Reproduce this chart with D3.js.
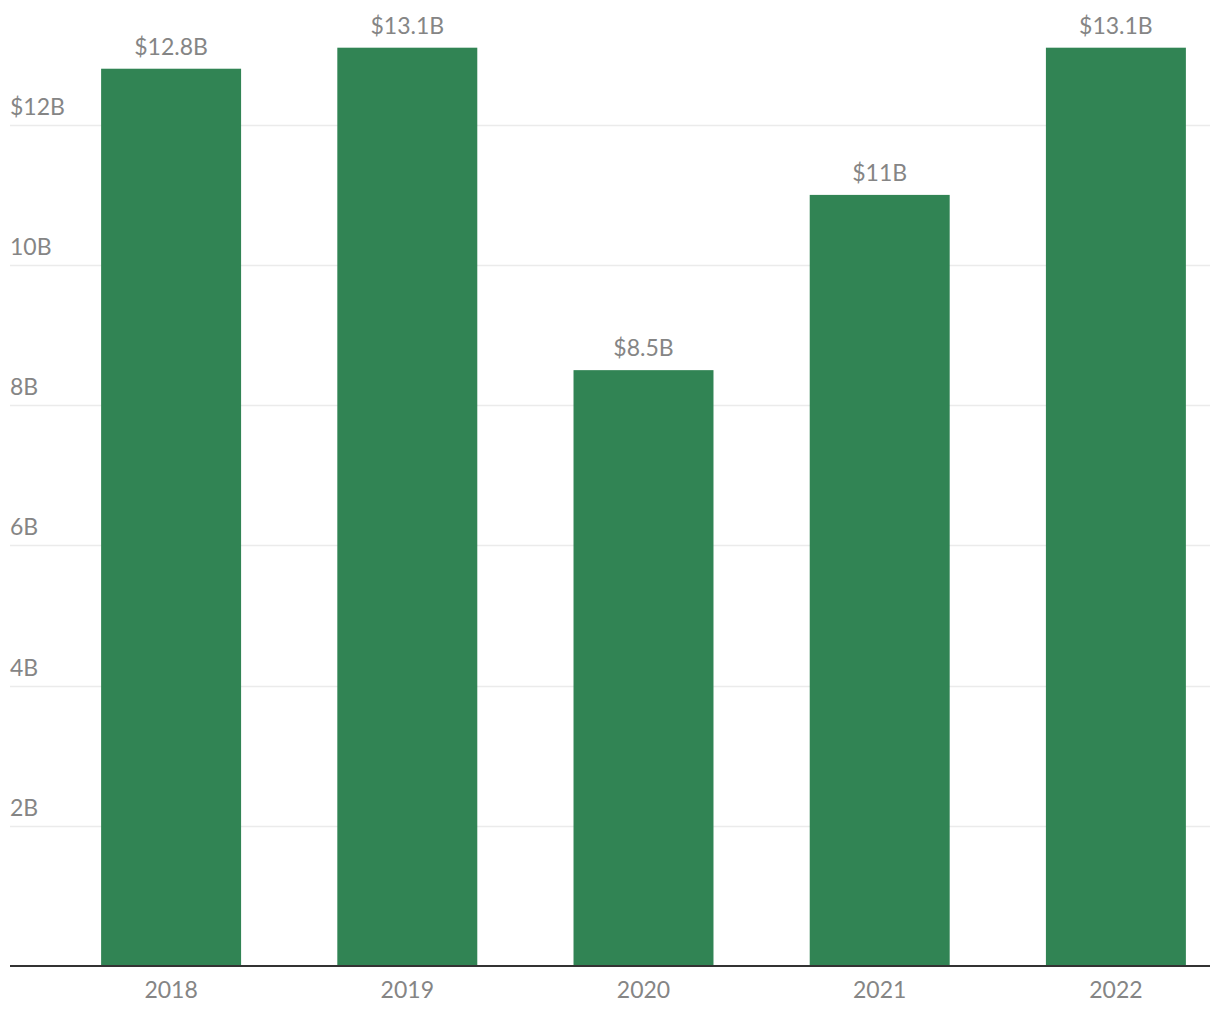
<!DOCTYPE html>
<html>
<head>
<meta charset="utf-8">
<script src="https://cdn.jsdelivr.net/npm/d3@7"></script>
<style>
  body { margin: 0; background: #fff; }
  svg text { font-family: Lato, "Open Sans", sans-serif; fill: #858585; }
</style>
</head>
<body>
<div id="chart"></div>
<script>
const years = ['2018', '2019', '2020', '2021', '2022'];
const revenue = [12.8, 13.1, 8.5, 11, 13.1];
const valueLabels = ['$12.8B', '$13.1B', '$8.5B', '$11B', '$13.1B'];
const yTicks = [2, 4, 6, 8, 10, 12];

const width = 1220;
const height = 1020;
const left = 10;
const right = 1210;
const baseY = 966;

const svg = d3.select('#chart')
  .append('svg')
  .attr('width', width)
  .attr('height', height);

const x = d3.scaleBand()
  .domain(years)
  .range([53, 1234])
  .paddingInner(0.4074)
  .paddingOuter(0.2037);

const y = d3.scaleLinear()
  .domain([0, 12])
  .range([baseY, baseY - 12 * 70.1]);

// gridlines + labels
const grid = svg.append('g');
grid.selectAll('line')
  .data(yTicks)
  .enter()
  .append('line')
  .attr('x1', left)
  .attr('x2', right)
  .attr('y1', d => Math.round(y(d)) + 0.5)
  .attr('y2', d => Math.round(y(d)) + 0.5)
  .attr('stroke', '#ebebeb')
  .attr('stroke-width', 1.5);

grid.selectAll('text')
  .data(yTicks)
  .enter()
  .append('text')
  .attr('x', left)
  .attr('y', d => y(d) - 10)
  .attr('font-size', 23)
  .text(d => (d === 12 ? '$' : '') + d + 'B');

// bars
svg.selectAll('rect.bar')
  .data(revenue)
  .enter()
  .append('rect')
  .attr('class', 'bar')
  .attr('x', (d, i) => x(years[i]))
  .attr('width', x.bandwidth())
  .attr('y', d => y(d))
  .attr('height', d => baseY - y(d))
  .attr('fill', '#318454');

svg.selectAll('text.value')
  .data(revenue)
  .enter()
  .append('text')
  .attr('class', 'value')
  .attr('x', (d, i) => x(years[i]) + x.bandwidth() / 2)
  .attr('y', d => y(d) - 14)
  .attr('text-anchor', 'middle')
  .attr('font-size', 23)
  .text((d, i) => valueLabels[i]);

// baseline axis
const xAxis = d3.axisBottom(x).tickSize(0).tickPadding(16);
const axisG = svg.append('g')
  .attr('transform', `translate(0,${baseY})`)
  .call(xAxis);
axisG.select('.domain').remove();
axisG.selectAll('.tick text')
  .attr('font-size', 23)
  .attr('font-family', 'Lato, "Open Sans", sans-serif')
  .attr('fill', '#858585')
  .attr('dy', '0.71em');

svg.append('line')
  .attr('x1', left)
  .attr('x2', right)
  .attr('y1', baseY)
  .attr('y2', baseY)
  .attr('stroke', '#333')
  .attr('stroke-width', 2);
</script>
</body>
</html>
